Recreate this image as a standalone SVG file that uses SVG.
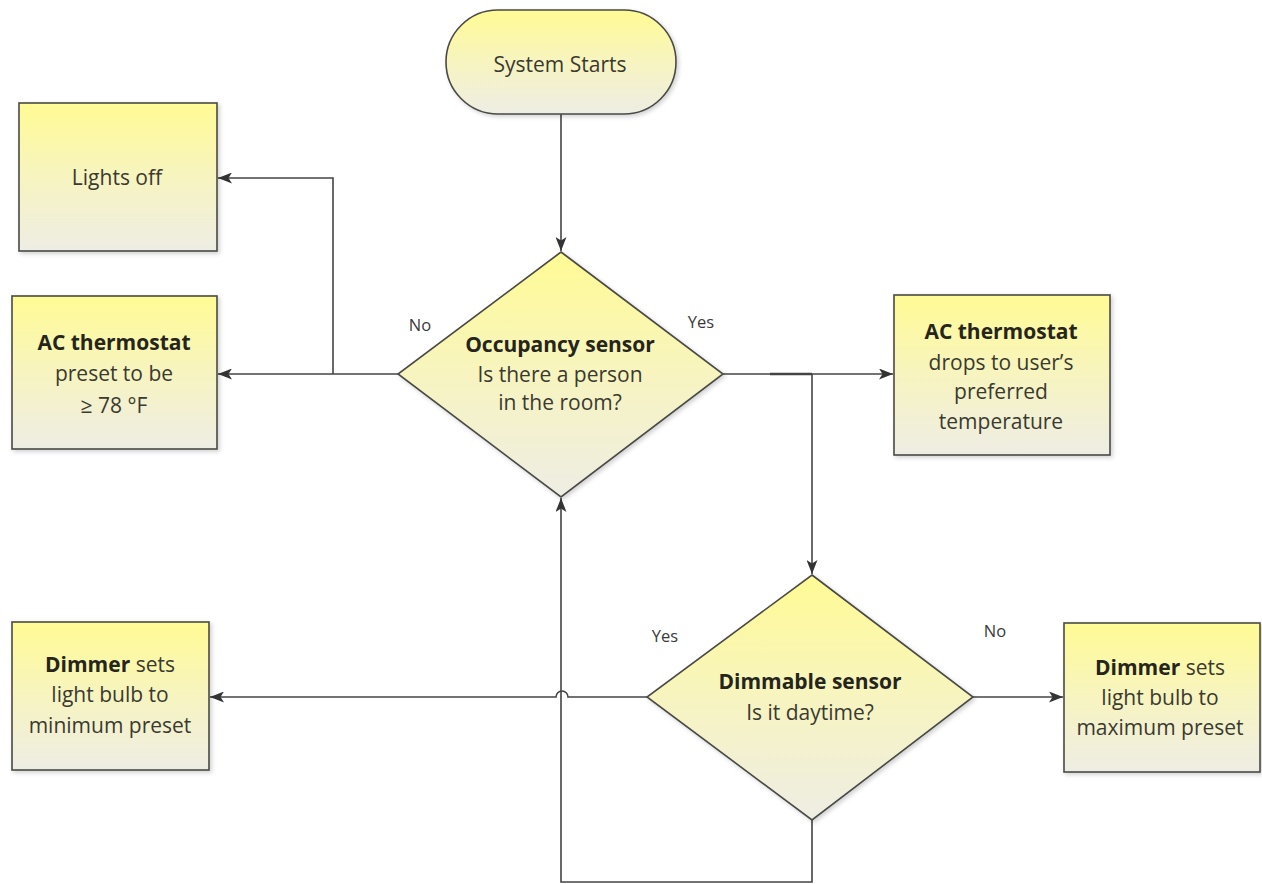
<svg xmlns="http://www.w3.org/2000/svg" width="1262" height="884" viewBox="0 0 1262 884">
<style>
.shape{fill:url(#g);stroke:#4a4a45;stroke-width:1.6;filter:url(#sh)}
.t{font-family:"Open Sans",Lato,"Liberation Sans",sans-serif;font-size:21px;fill:#3a3a30;text-anchor:middle}
.b{font-weight:bold;fill:#25251c}
.lbl{font-family:"Open Sans",Lato,"Liberation Sans",sans-serif;font-size:16.5px;fill:#3a3a3a;text-anchor:middle}
.c{fill:none;stroke:#444;stroke-width:1.6}
</style>
<defs>
<linearGradient id="g" x1="0" y1="0" x2="0" y2="1">
<stop offset="0" stop-color="#fffb94"/>
<stop offset="0.5" stop-color="#f7f4c0"/>
<stop offset="1" stop-color="#eeede4"/>
</linearGradient>
<filter id="sh" x="-10%" y="-10%" width="120%" height="120%">
<feDropShadow dx="2" dy="2" stdDeviation="2" flood-color="#000" flood-opacity="0.18"/>
</filter>
<marker id="ar" viewBox="0 0 14 11" refX="14" refY="5.5" markerWidth="14" markerHeight="11" markerUnits="userSpaceOnUse" orient="auto">
<path d="M0,0 L14,5.5 L0,11 L3.5,5.5 z" fill="#333"/>
</marker>
</defs>
<rect width="1262" height="884" fill="#fff"/>

<g id="connectors">
<path class="c" d="M561,114 V251" marker-end="url(#ar)"/>
<path class="c" d="M398,374 H218" marker-end="url(#ar)"/>
<path class="c" d="M333,374 V178 H218" marker-end="url(#ar)"/>
<path class="c" d="M723,374 H893" marker-end="url(#ar)"/>
<path class="c" d="M770,374 H812" style="stroke-width:2.4"/>
<path class="c" d="M812,374 V574" marker-end="url(#ar)"/>
<path class="c" d="M647,697 H568 A6,6 0 0 0 556,697 H210" marker-end="url(#ar)"/>
<path class="c" d="M973,697 H1063" marker-end="url(#ar)"/>
<path class="c" d="M812,820 V882 H561 V498" marker-end="url(#ar)"/>
<text class="lbl" x="420" y="331">No</text>
<text class="lbl" x="701" y="328">Yes</text>
<text class="lbl" x="665" y="642">Yes</text>
<text class="lbl" x="995" y="637">No</text>
</g>

<g id="start">
<rect class="shape" x="446" y="10" width="230" height="104" rx="52" ry="52"/>
<text class="t" x="560" y="72">System Starts</text>
</g>

<g id="lights-off">
<rect class="shape" x="19" y="103" width="198" height="148"/>
<text class="t" x="117" y="185">Lights off</text>
</g>

<g id="ac-preset">
<rect class="shape" x="12" y="296" width="205" height="153"/>
<text class="t b" x="114" y="350">AC thermostat</text>
<text class="t" x="114" y="381">preset to be</text>
<text class="t" x="114" y="413">≥ 78 °F</text>
</g>

<g id="occupancy">
<polygon class="shape" points="561,252 723,374 561,497 398,374"/>
<text class="t b" x="560" y="352">Occupancy sensor</text>
<text class="t" x="560" y="382">Is there a person</text>
<text class="t" x="560" y="410">in the room?</text>
</g>

<g id="ac-drop">
<rect class="shape" x="894" y="295" width="216" height="160"/>
<text class="t b" x="1001" y="339">AC thermostat</text>
<text class="t" x="1001" y="370">drops to user’s</text>
<text class="t" x="1001" y="399">preferred</text>
<text class="t" x="1001" y="429">temperature</text>
</g>

<g id="dimmable">
<polygon class="shape" points="812,575 973,697 812,820 647,697"/>
<text class="t b" x="810" y="689">Dimmable sensor</text>
<text class="t" x="810" y="720">Is it daytime?</text>
</g>

<g id="dimmer-min">
<rect class="shape" x="12" y="622" width="197" height="148"/>
<text class="t" x="110" y="672"><tspan class="b">Dimmer</tspan> sets</text>
<text class="t" x="110" y="702">light bulb to</text>
<text class="t" x="110" y="733">minimum preset</text>
</g>

<g id="dimmer-max">
<rect class="shape" x="1064" y="623" width="196" height="149"/>
<text class="t" x="1160" y="675"><tspan class="b">Dimmer</tspan> sets</text>
<text class="t" x="1160" y="705">light bulb to</text>
<text class="t" x="1160" y="735">maximum preset</text>
</g>
</svg>
